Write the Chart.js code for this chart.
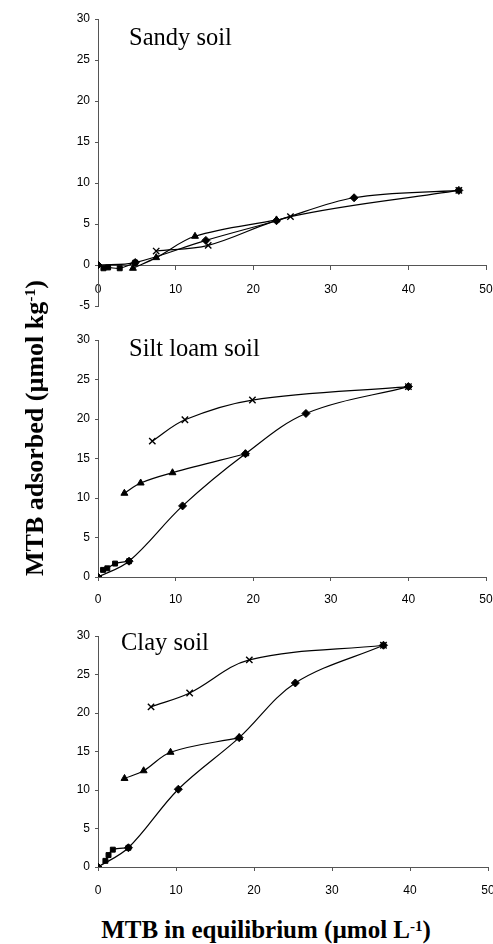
<!DOCTYPE html>
<html>
<head>
<meta charset="utf-8">
<script src="https://cdn.jsdelivr.net/npm/chart.js@4.4.1/dist/chart.umd.min.js"></script>
<style>
    html, body { margin: 0; padding: 0; background: #fff; }
    #page { position: relative; width: 493px; height: 944px; overflow: hidden; background: #fff; }
    canvas { position: absolute; left: 0; }
    .panelTitle { position: absolute; font-family: 'Liberation Serif', 'Times New Roman', serif; font-size: 24.5px; line-height: 1; white-space: nowrap; color: #000; }
    .axisTitle { position: absolute; font-family: 'Liberation Serif', 'Times New Roman', serif; font-weight: bold; line-height: 1; white-space: nowrap; color: #000; }
    .sup { position: relative; top: -0.5em; font-size: 0.6em; line-height: 0; }
</style>
</head>
<body>
<div id="page">
    <canvas id="sandy" width="520" height="316" style="top:0px"></canvas>
    <canvas id="silt" width="520" height="287" style="top:320px"></canvas>
    <canvas id="clay" width="520" height="281" style="top:616px"></canvas>
    <div class="panelTitle" style="left:129px; top:25px">Sandy soil</div>
    <div class="panelTitle" style="left:129px; top:336px">Silt loam soil</div>
    <div class="panelTitle" style="left:121px; top:630px">Clay soil</div>
    <div class="axisTitle" id="xTitle" style="font-size:25px; left:266px; top:917px; transform:translateX(-50%)">MTB in equilibrium (&micro;mol L<span class="sup">-1</span>)</div>
    <div class="axisTitle" id="yTitle" style="font-size:26px; left:35px; top:428px; transform:translate(-50%,-50%) rotate(-90deg)">MTB adsorbed (&micro;mol kg<span class="sup">-1</span>)</div>
</div>
<script>
"use strict";
// x ticks / y ticks
const xTicks = [0, 10, 20, 30, 40, 50];

// Sandy soil: adsorption (diamond) and three desorption runs (square, triangle, cross)
const sandyAdsX = [0, 4.8, 13.9, 23.0, 33.0, 46.5];
const sandyAdsY = [0, 0.3, 3.0, 5.4, 8.2, 9.1];
const sandySqX = [4.8, 2.8, 1.3, 0.7];
const sandySqY = [0.3, -0.4, -0.3, -0.4];
const sandyTriX = [23.0, 12.5, 7.5, 4.5];
const sandyTriY = [5.5, 3.5, 0.9, -0.4];
const sandyCrossX = [46.5, 24.8, 14.2, 7.5];
const sandyCrossY = [9.1, 5.9, 2.4, 1.7];

// Silt loam soil
const siltAdsX = [0, 4.0, 10.9, 19.0, 26.8, 40.0];
const siltAdsY = [0, 2.0, 9.0, 15.6, 20.7, 24.1];
const siltSqX = [4.0, 2.2, 1.2, 0.65];
const siltSqY = [2.0, 1.7, 1.1, 0.9];
const siltTriX = [19.0, 9.6, 5.5, 3.4];
const siltTriY = [15.6, 13.2, 11.9, 10.6];
const siltCrossX = [40.0, 19.9, 11.2, 7.0];
const siltCrossY = [24.1, 22.4, 19.9, 17.2];

// Clay soil
const clayAdsX = [0, 3.9, 10.3, 18.1, 25.3, 36.6];
const clayAdsY = [0, 2.5, 10.1, 16.8, 23.9, 28.8];
const claySqX = [3.9, 1.9, 1.35, 0.95];
const claySqY = [2.5, 2.25, 1.55, 0.8];
const clayTriX = [18.1, 9.3, 5.85, 3.4];
const clayTriY = [16.8, 14.9, 12.5, 11.5];
const clayCrossX = [36.6, 19.4, 11.75, 6.8];
const clayCrossY = [28.8, 26.9, 22.6, 20.8];

const axisColor = '#555';
const tickFont = { family: "'Liberation Sans', Arial, sans-serif", size: 12 };

function toPoints(xs, ys) {
    let pts = [];
    for (let i = 0; i < xs.length; i++) {
        pts.push({ x: xs[i], y: ys[i] });
    }
    return pts;
}

function buildDataset(xs, ys, style, radius, pbw) {
    return {
        data: toPoints(xs, ys),
        showLine: true,
        borderColor: '#000',
        borderWidth: 1.2,
        backgroundColor: '#000',
        pointStyle: style,
        pointRadius: radius,
        pointBorderWidth: pbw,
        pointBackgroundColor: '#000',
        pointBorderColor: '#000',
        tension: 0.35,
        fill: false
    };
}

function buildPanel(id, series, yMin, pad, xAtZero, xLabelPad) {
    const datasets = [
        buildDataset(series[0], series[1], 'rectRot', 4, 1),
        buildDataset(series[2], series[3], 'rect', 3.5, 1),
        buildDataset(series[4], series[5], 'triangle', 4, 1),
        buildDataset(series[6], series[7], 'crossRot', 4.5, 1.4)
    ];
    const xScale = {
        type: 'linear',
        min: 0,
        max: 50,
        afterBuildTicks: s => { s.ticks = xTicks.map(v => ({ value: v })); },
        ticks: { font: tickFont, color: '#000', padding: xLabelPad, maxRotation: 0 },
        grid: { drawOnChartArea: false, drawTicks: true, tickLength: 4, color: axisColor },
        border: { display: true, color: axisColor, width: 1 },
        afterFit: s => { s.height = 30; s.paddingLeft = 0; s.paddingRight = 0; }
    };
    if (xAtZero) {
        xScale.position = { y: 0 };
    }
    const opt = {
        responsive: false,
        animation: false,
        layout: { padding: pad },
        plugins: {
            legend: { display: false },
            tooltip: { enabled: false },
            title: { display: false }
        },
        scales: {
            x: xScale,
            y: {
                type: 'linear',
                min: yMin,
                max: 30,
                ticks: { stepSize: 5, font: tickFont, color: '#000', padding: 5 },
                grid: { drawOnChartArea: false, drawTicks: true, tickLength: 3, color: axisColor },
                border: { display: true, color: axisColor, width: 1 },
                afterFit: s => { s.width = 98; s.paddingTop = 0; s.paddingBottom = 0; }
            }
        }
    };
    return new Chart(document.getElementById(id), {
        type: 'scatter',
        data: { datasets: datasets },
        options: opt
    });
}

buildPanel('sandy',
    [sandyAdsX, sandyAdsY, sandySqX, sandySqY, sandyTriX, sandyTriY, sandyCrossX, sandyCrossY],
    -5, { top: 19, bottom: 10, left: 0, right: 34 }, true, 13);
buildPanel('silt',
    [siltAdsX, siltAdsY, siltSqX, siltSqY, siltTriX, siltTriY, siltCrossX, siltCrossY],
    0, { top: 20, bottom: 0, left: 0, right: 34 }, false, 11);
buildPanel('clay',
    [clayAdsX, clayAdsY, claySqX, claySqY, clayTriX, clayTriY, clayCrossX, clayCrossY],
    0, { top: 20, bottom: 0, left: 0, right: 32 }, false, 12);
</script>
</body>
</html>
